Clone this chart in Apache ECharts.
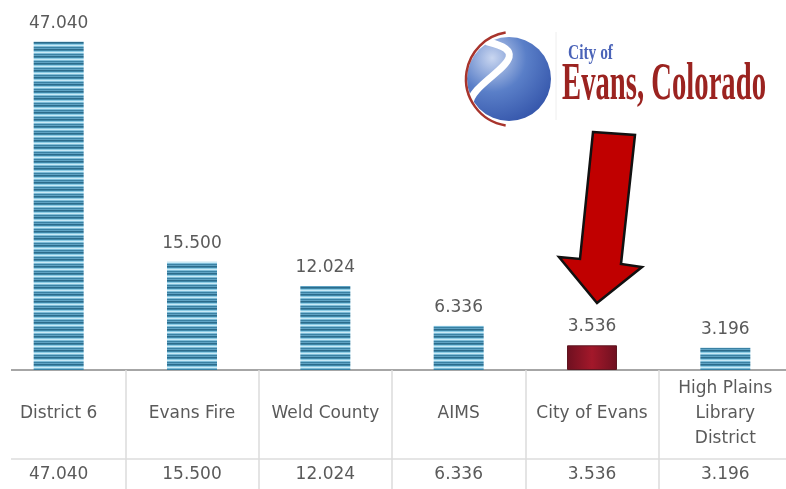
<!DOCTYPE html>
<html>
<head>
<meta charset="utf-8">
<script src="https://cdn.jsdelivr.net/npm/echarts@6/dist/echarts.min.js"></script>
<style>
  html, body { margin: 0; padding: 0; background: #fff; }
  #main { width: 786px; height: 489px; }
</style>
</head>
<body>
<div id="main"></div>
<script>
const categories = ["District 6", "Evans Fire", "Weld County", "AIMS", "City of Evans", "High Plains\nLibrary\nDistrict"];
const values = [47.040, 15.500, 12.024, 6.336, 3.536, 3.196];
const highlight = "City of Evans";

const FONT = "DejaVu Sans";
const TEXT = "#5a5a5a";

// striped fill for the regular bars
function stripes() {
  const c = document.createElement("canvas");
  c.width = 4; c.height = 7;
  const ctx = c.getContext("2d");
  const rows = ["#2c6c8b", "#3f88aa", "#8ccbe4", "#c9eaf6", "#7dbcd8", "#3a81a3", "#5fa3c4"];
  rows.forEach((col, i) => { ctx.fillStyle = col; ctx.fillRect(0, i, 4, 1); });
  return c;
}
const stripeFill = { image: stripes(), repeat: "repeat" };
const redFill = new echarts.graphic.LinearGradient(0, 0, 1, 0, [
  { offset: 0, color: "#6e1020" },
  { offset: 0.5, color: "#a3182a" },
  { offset: 1, color: "#6e1020" }
]);

function fmt(v) { return v.toFixed(3); }

// fit logo text width
function measure(txt, font) {
  const ctx = document.createElement("canvas").getContext("2d");
  ctx.font = font;
  return ctx.measureText(txt).width;
}
const bigFont = "bold 53px 'Liberation Serif'";
const bigScale = 204 / measure("Evans, Colorado", bigFont);
const smallFont = "bold 22px 'Liberation Serif'";
const smallScale = 45 / measure("City of", smallFont);

const chart = echarts.init(document.getElementById("main"));
chart.setOption({
  animation: false,
  grid: { left: -8, right: -6, top: 21, bottom: 119, outerBoundsMode: "none" },
  xAxis: [
    {
      type: "category",
      data: categories,
      position: "bottom",
      axisLine: { lineStyle: { color: "#a6a6a6", width: 2 } },
      axisTick: { show: true, length: 122, lineStyle: { color: "#dcdcdc", width: 1.5 } },
      axisLabel: {
        margin: 44, verticalAlign: "middle", lineHeight: 25,
        fontFamily: FONT, fontSize: 17, color: TEXT, interval: 0
      }
    },
    {
      type: "category",
      data: values.map(fmt),
      position: "bottom",
      offset: 89,
      axisLine: { lineStyle: { color: "#dcdcdc", width: 1.5 } },
      axisTick: { show: false },
      axisLabel: {
        margin: 16, verticalAlign: "middle",
        fontFamily: FONT, fontSize: 17, color: TEXT, interval: 0
      }
    }
  ],
  yAxis: { type: "value", min: 0, max: 50, show: false, splitLine: { show: false } },
  series: [{
    type: "bar",
    barWidth: 50,
    data: values.map((v, i) => ({
      value: v,
      itemStyle: categories[i] === highlight
        ? { color: redFill, borderColor: "#5e1620", borderWidth: 1 }
        : { color: stripeFill }
    })),
    label: {
      show: true, position: "top", distance: 10,
      fontFamily: FONT, fontSize: 17, color: TEXT,
      formatter: p => fmt(p.value)
    }
  }],
  graphic: [
    // hide the table lines left of the table edge
    { type: "rect", left: 0, top: 362, shape: { width: 11, height: 127 }, style: { fill: "#fff" }, z: 100 },
    // logo globe
    {
      type: "circle", shape: { cx: 509, cy: 79, r: 42 }, z: 50,
      style: {
        fill: new echarts.graphic.RadialGradient(0.3, 0.25, 0.9, [
          { offset: 0, color: "#c9d6f0" },
          { offset: 0.45, color: "#5a7fc8" },
          { offset: 1, color: "#2f4fa6" }
        ])
      }
    },
    {
      type: "bezierCurve", z: 51,
      shape: { x1: 488, y1: 42, x2: 470, y2: 104, cpx1: 545, cpy1: 55, cpx2: 470, cpy2: 80 },
      style: { stroke: "#fff", lineWidth: 7, fill: null, lineCap: "round" }
    },
    {
      type: "arc", z: 52,
      shape: { cx: 513, cy: 79, r: 47, startAngle: Math.PI * 0.55, endAngle: Math.PI * 1.45 },
      style: { stroke: "#a8342c", lineWidth: 2.5, fill: null }
    },
    { type: "line", z: 50, shape: { x1: 556, y1: 32, x2: 556, y2: 120 }, style: { stroke: "#eeeeee", lineWidth: 1 } },
    {
      type: "text", z: 53, x: 568, y: 42, scaleX: smallScale, originX: 0,
      style: { text: "City of", font: smallFont, fill: "#4a63b8", textVerticalAlign: "top" }
    },
    {
      type: "text", z: 53, x: 562, y: 59, scaleX: bigScale, originX: 0,
      style: { text: "Evans, Colorado", font: bigFont, fill: "#9b2320", textVerticalAlign: "top" }
    },
    // arrow pointing to City of Evans
    {
      type: "polygon", z: 60,
      shape: { points: [[593, 132], [635, 135], [621, 264], [642, 267], [597, 303], [559, 257], [580, 259]] },
      style: { fill: "#c00000", stroke: "#111", lineWidth: 2.5, lineJoin: "miter" }
    }
  ]
});
</script>
</body>
</html>
